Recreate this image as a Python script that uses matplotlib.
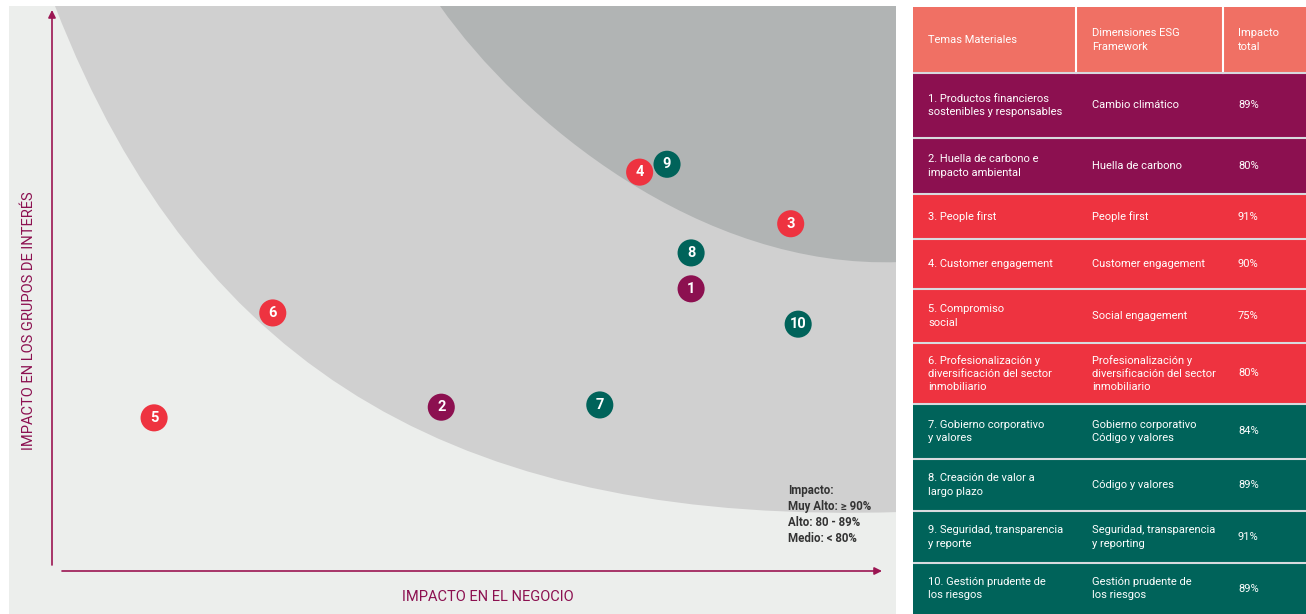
import matplotlib.pyplot as plt
from matplotlib.path import Path
from matplotlib.patches import PathPatch, Rectangle

plt.rcParams['font.family'] = ['Roboto', 'DejaVu Sans']

# Data
temas = ["1. Productos financieros\nsostenibles y responsables",
         "2. Huella de carbono e\nimpacto ambiental",
         "3. People first",
         "4. Customer engagement",
         "5. Compromiso\nsocial",
         "6. Profesionalización y\ndiversificación del sector\ninmobiliario",
         "7. Gobierno corporativo\ny valores",
         "8. Creación de valor a\nlargo plazo",
         "9. Seguridad, transparencia\ny reporte",
         "10. Gestión prudente de\nlos riesgos"]
dimensiones = ["Cambio climático",
               "Huella de carbono",
               "People first",
               "Customer engagement",
               "Social engagement",
               "Profesionalización y\ndiversificación del sector\ninmobiliario",
               "Gobierno corporativo\nCódigo y valores",
               "Código y valores",
               "Seguridad, transparencia\ny reporting",
               "Gestión prudente de\nlos riesgos"]
impacto_total = [89, 80, 91, 90, 75, 80, 84, 89, 91, 89]
grupo = ["E", "E", "S", "S", "S", "S", "G", "G", "G", "G"]
impacto_negocio = [77.0, 46.9, 89.0, 70.8, 12.3, 26.6, 66.0, 77.0, 74.1, 89.9]
impacto_grupos = [50.3, 29.2, 61.9, 71.1, 27.3, 46.0, 29.6, 56.7, 72.5, 44.0]
encabezados = ["Temas Materiales", "Dimensiones ESG\nFramework", "Impacto\ntotal"]
leyenda = ["Impacto:", "Muy Alto: \u2265 90%", "Alto: 80 - 89%", "Medio: < 80%"]

colores = {"E": "#8C1050", "S": "#EE3340", "G": "#00635A"}
color_cab = "#F07064"
granate = "#8C1050"

W, H = 1306, 614
fig = plt.figure(figsize=(W / 100, H / 100), dpi=100)

# ---- matrix panel ----
L, R, T, B = 9, 896, 6, 614
ax = fig.add_axes([L / W, 1 - B / H, (R - L) / W, (B - T) / H])
# pixel -> value: origin at (52, 571), 100 at (882, 10)
x0, y0, sx, sy = 52, 571, 8.3, 5.61


def vx(px):
    return (px - x0) / sx


def vy(py):
    return (y0 - py) / sy


ax.set_xlim(vx(L), vx(R))
ax.set_ylim(vy(B), vy(T))
ax.axis("off")
ax.add_patch(Rectangle((0, 0), 1, 1, transform=ax.transAxes, color="#ECEEEC", zorder=0))


def zona(pts, color):
    verts = [(vx(a), vy(b)) for a, b in pts] + [(vx(R + 5), vy(T - 5)), (vx(pts[0][0]), vy(T - 5)), (0, 0)]
    codes = [Path.MOVETO, Path.CURVE4, Path.CURVE4, Path.CURVE4, Path.LINETO, Path.LINETO, Path.CLOSEPOLY]
    ax.add_patch(PathPatch(Path(verts, codes), facecolor=color, edgecolor="none", zorder=1))


zona([(55, 6), (200, 380), (470, 525), (900, 512)], "#D0D0D0")
zona([(440, 6), (520, 120), (700, 270), (900, 262)], "#B1B4B4")

# axes arrows
flecha = dict(arrowstyle="-|>", color="#9B1552", lw=1.2, mutation_scale=11, shrinkA=0, shrinkB=0)
ax.annotate("", xy=(0, 100), xytext=(0, vy(565)), arrowprops=flecha, zorder=2)
ax.annotate("", xy=(100, 0), xytext=(vx(62), 0), arrowprops=flecha, zorder=2)

# points
ax.scatter(impacto_negocio, impacto_grupos, s=380, c=[colores[g] for g in grupo],
           linewidths=0, zorder=3)
for i, (x, y) in enumerate(zip(impacto_negocio, impacto_grupos)):
    ax.text(x, y, str(i + 1), ha="center", va="center", color="white",
            fontsize=10.5, fontweight="bold", zorder=4)

fig.text(29 / W, 1 - 321 / H, "IMPACTO EN LOS GRUPOS DE INTERÉS", rotation=90,
         ha="center", va="center", color=granate, fontsize=10.5)
fig.text(488 / W, 1 - 597 / H, "IMPACTO EN EL NEGOCIO", ha="center", va="center",
         color=granate, fontsize=10.5)
fig.text(788 / W, 1 - 484 / H, "\n".join(leyenda), ha="left", va="top", fontsize=8.3,
         fontweight="bold", color="#333333", linespacing=1.3)

# ---- table ----
TL = 913
tx = fig.add_axes([TL / W, 0, (W - TL) / W, (B - 7) / H])
tx.set_xlim(TL, W)
tx.set_ylim(B, 7)
tx.axis("off")

filas = [7, 73, 138, 194, 239, 289, 343, 404, 459, 511, 563, 614]
cols = [913, 1076, 1223, 1306]
txt_x = [928, 1092, 1238]

tx.add_patch(Rectangle((TL, filas[0]), W - TL, filas[1] - filas[0], color=color_cab, lw=0))
for j, h in enumerate(encabezados):
    tx.text(txt_x[j], (filas[0] + filas[1]) / 2, h, ha="left", va="center",
            color="white", fontsize=8, linespacing=1.4)
for c in cols[1:-1]:
    tx.plot([c, c], [filas[0], filas[1]], color="white", lw=1.5)

for i in range(len(temas)):
    top, bot = filas[i + 1], filas[i + 2]
    tx.add_patch(Rectangle((TL, top), W - TL, bot - top, color=colores[grupo[i]], lw=0))
    yc = (top + bot) / 2
    fila = [temas[i], dimensiones[i], f"{impacto_total[i]}%"]
    for j, t in enumerate(fila):
        tx.text(txt_x[j], yc, t, ha="left", va="center", color="white",
                fontsize=8, linespacing=1.4)

for y in filas[1:-1]:
    tx.plot([TL, W], [y, y], color="#D8DADE", lw=1.5)

fig.savefig("out.png", dpi=100)
